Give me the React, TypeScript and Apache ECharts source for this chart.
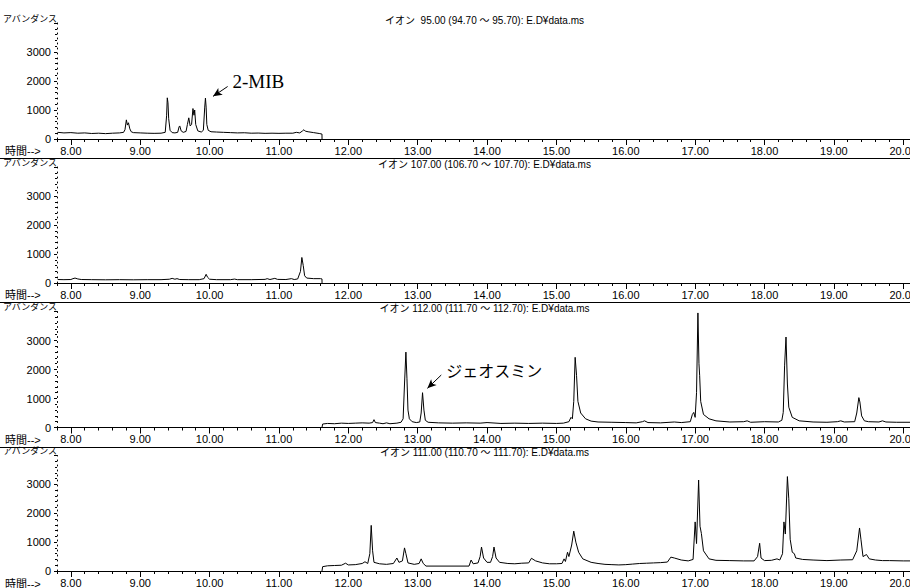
import React, { useEffect, useRef } from 'react';
import * as echarts from 'echarts';

// ---- axis settings ----
const xMin = 7.8;
const xMax = 20.1;
const yMax = 4000;
const majorTimes = [8, 9, 10, 11, 12, 13, 14, 15, 16, 17, 18, 19, 20];
const xAxisName = '時間-->';
const yAxisName = 'アバンダンス';

const titles = [
  'イオン  95.00 (94.70 ～ 95.70): E.D¥data.ms',
  'イオン 107.00 (106.70 ～ 107.70): E.D¥data.ms',
  'イオン 112.00 (111.70 ～ 112.70): E.D¥data.ms',
  'イオン 111.00 (110.70 ～ 111.70): E.D¥data.ms',
];

// ---- data: [time (min), abundance] ----
const ion95: [number, number][] = [
  [7.81, 230], [7.9, 210], [8.0, 220], [8.1, 200], [8.2, 210], [8.3, 190], [8.4, 200], [8.5, 185],
  [8.6, 200], [8.7, 210], [8.76, 230], [8.78, 320], [8.8, 660], [8.815, 480], [8.83, 560], [8.85, 350],
  [8.87, 250], [8.9, 220], [9.0, 210], [9.1, 200], [9.2, 195], [9.3, 200], [9.36, 230], [9.38, 800],
  [9.39, 1420], [9.4, 1250], [9.41, 700], [9.43, 300], [9.46, 220], [9.5, 210], [9.54, 230], [9.56, 420],
  [9.57, 450], [9.59, 280], [9.62, 230], [9.66, 260], [9.68, 500], [9.7, 730], [9.72, 450], [9.74, 500],
  [9.76, 1050], [9.775, 820], [9.785, 1000], [9.8, 500], [9.83, 280], [9.88, 240], [9.91, 300], [9.93, 1100],
  [9.94, 1410], [9.95, 1100], [9.96, 500], [9.98, 300], [10.02, 250], [10.1, 240], [10.2, 230], [10.3, 220],
  [10.4, 210], [10.5, 215], [10.6, 200], [10.7, 205], [10.8, 195], [10.9, 200], [11.0, 195], [11.1, 200],
  [11.2, 200], [11.25, 230], [11.3, 210], [11.34, 280], [11.36, 320], [11.38, 270], [11.42, 250], [11.5, 220],
  [11.58, 190], [11.62, 170], [11.621, 0],
];

const ion107: [number, number][] = [
  [7.81, 120], [7.9, 115], [8.0, 120], [8.03, 150], [8.06, 170], [8.1, 140], [8.15, 120], [8.3, 115],
  [8.5, 110], [8.7, 115], [8.9, 110], [9.1, 115], [9.3, 115], [9.42, 130], [9.46, 160], [9.5, 130],
  [9.53, 150], [9.57, 120], [9.7, 115], [9.85, 115], [9.92, 150], [9.95, 300], [9.97, 200], [10.0, 130],
  [10.1, 115], [10.3, 115], [10.36, 135], [10.4, 115], [10.6, 115], [10.8, 125], [10.83, 150], [10.87, 120],
  [10.94, 160], [10.98, 125], [11.1, 120], [11.18, 150], [11.22, 120], [11.27, 140], [11.31, 400], [11.33, 880],
  [11.35, 600], [11.37, 250], [11.4, 170], [11.5, 150], [11.6, 150], [11.62, 140], [11.621, 0],
];

const ion112: [number, number][] = [
  [11.62, 0], [11.63, 120], [11.7, 140], [11.8, 130], [11.9, 150], [12.0, 140], [12.1, 150], [12.2, 160],
  [12.3, 150], [12.35, 170], [12.37, 270], [12.39, 170], [12.45, 150], [12.5, 130], [12.55, 160], [12.6, 130],
  [12.7, 150], [12.76, 180], [12.79, 300], [12.81, 1500], [12.83, 2600], [12.845, 1700], [12.86, 600], [12.88, 300],
  [12.92, 200], [12.98, 170], [13.03, 190], [13.05, 500], [13.07, 1200], [13.09, 600], [13.11, 250], [13.15, 180],
  [13.3, 160], [13.5, 150], [13.7, 160], [13.9, 150], [14.0, 170], [14.2, 140], [14.4, 150], [14.6, 140],
  [14.8, 150], [15.0, 140], [15.1, 150], [15.18, 200], [15.21, 350], [15.23, 300], [15.25, 900], [15.27, 2420],
  [15.29, 1800], [15.31, 900], [15.35, 500], [15.42, 300], [15.5, 220], [15.6, 190], [15.8, 180], [16.0, 170],
  [16.15, 160], [16.24, 200], [16.27, 230], [16.32, 170], [16.5, 160], [16.7, 190], [16.8, 170], [16.93, 200],
  [16.96, 450], [16.98, 520], [17.0, 350], [17.02, 1200], [17.04, 3950], [17.055, 2200], [17.065, 1800], [17.08, 900],
  [17.12, 450], [17.2, 300], [17.3, 230], [17.5, 190], [17.7, 200], [17.75, 230], [17.8, 180], [18.0, 200],
  [18.2, 190], [18.25, 250], [18.27, 520], [18.29, 2150], [18.31, 3120], [18.33, 1500], [18.35, 700], [18.4, 350],
  [18.5, 230], [18.7, 190], [18.9, 180], [19.05, 200], [19.1, 230], [19.15, 190], [19.3, 200], [19.33, 500],
  [19.36, 1030], [19.375, 880], [19.4, 400], [19.44, 230], [19.5, 200], [19.65, 190], [19.7, 230], [19.75, 190],
  [19.9, 180], [20.1, 180],
];

const ion111: [number, number][] = [
  [11.62, 0], [11.63, 150], [11.7, 180], [11.8, 190], [11.9, 200], [11.96, 270], [12.0, 210], [12.1, 220],
  [12.2, 260], [12.24, 320], [12.28, 260], [12.31, 600], [12.33, 1580], [12.35, 700], [12.37, 300], [12.45, 250],
  [12.55, 230], [12.65, 260], [12.7, 450], [12.73, 300], [12.78, 350], [12.81, 800], [12.83, 600], [12.86, 280],
  [12.95, 230], [13.02, 260], [13.05, 420], [13.08, 260], [13.12, 170], [13.74, 170], [13.77, 380], [13.8, 250],
  [13.87, 280], [13.9, 500], [13.92, 830], [13.95, 450], [14.0, 300], [14.05, 300], [14.08, 500], [14.1, 830],
  [14.13, 450], [14.18, 300], [14.3, 260], [14.4, 250], [14.5, 270], [14.6, 280], [14.64, 440], [14.7, 350],
  [14.8, 280], [14.9, 250], [15.0, 250], [15.08, 260], [15.11, 420], [15.13, 330], [15.16, 650], [15.18, 500],
  [15.22, 900], [15.25, 1380], [15.28, 1000], [15.32, 650], [15.38, 420], [15.5, 300], [15.6, 260], [15.7, 230],
  [15.8, 220], [15.9, 210], [16.0, 220], [16.1, 240], [16.2, 260], [16.3, 270], [16.4, 280], [16.5, 290],
  [16.6, 310], [16.65, 480], [16.7, 450], [16.8, 380], [16.9, 350], [16.97, 400], [17.0, 1700], [17.02, 950],
  [17.05, 3150], [17.07, 1550], [17.09, 1300], [17.12, 700], [17.2, 420], [17.3, 370], [17.5, 360], [17.7, 350],
  [17.85, 350], [17.9, 500], [17.93, 960], [17.95, 450], [18.0, 360], [18.1, 370], [18.18, 420], [18.22, 380],
  [18.26, 600], [18.28, 1700], [18.3, 1280], [18.33, 3270], [18.35, 2500], [18.37, 1100], [18.4, 650], [18.43, 600],
  [18.45, 450], [18.55, 400], [18.7, 380], [18.9, 360], [19.1, 380], [19.27, 390], [19.33, 700], [19.37, 1490],
  [19.39, 1100], [19.42, 500], [19.47, 570], [19.51, 420], [19.6, 380], [19.7, 360], [19.8, 360], [20.0, 350],
  [20.1, 350],
];

const traces = [ion95, ion107, ion112, ion111];

// annotations: [arrow start, arrow end], text anchor
const mibArrow: [number, number][] = [[10.26, 1810], [10.05, 1470]];
const mibLabel: [number, number] = [10.33, 1990];
const geoArrow: [number, number][] = [[13.34, 1810], [13.14, 1350]];
const geoLabel: [number, number] = [13.41, 1990];

// ---- layout ----
const zeroY = [139, 283, 427.5, 571.5];
const plotH = 116;
const gridLeft = 57;
const gridW = 855;

const numFont = "'Liberation Sans Narrow', 'Liberation Sans', Arial, sans-serif";
const jpFont = "'Liberation Sans', 'Noto Sans CJK JP', sans-serif";

export default function App() {
  const ref = useRef<HTMLDivElement>(null);
  useEffect(() => {
    if (!ref.current) return;
    const chart = echarts.init(ref.current, undefined, { renderer: 'svg' });

    const grids = zeroY.map((z) => ({ left: gridLeft, top: z - plotH, width: gridW, height: plotH }));

    const mainX = zeroY.map((_, i) => ({
      type: 'value',
      gridIndex: i,
      min: xMin,
      max: xMax,
      interval: 0.2,
      position: 'bottom',
      axisLine: { onZero: false, lineStyle: { color: '#000', width: 1 } },
      axisTick: { length: 3, lineStyle: { color: '#000' } },
      axisLabel: {
        margin: 6,
        color: '#000',
        fontSize: 11,
        fontFamily: numFont,
        formatter: (v: number) => (Math.abs(v - Math.round(v)) < 1e-6 ? Math.round(v).toFixed(2) : ''),
      },
      splitLine: { show: false },
    }));

    const majorX = zeroY.map((_, i) => ({
      type: 'value',
      gridIndex: i,
      min: xMin,
      max: xMax,
      position: 'bottom',
      axisLine: { show: false, onZero: false },
      axisTick: { show: true, length: 6, customValues: majorTimes, lineStyle: { color: '#000' } },
      axisLabel: { show: false },
      splitLine: { show: false },
    }));

    const yAxes = zeroY.map((_, i) => ({
      type: 'value',
      gridIndex: i,
      min: 0,
      max: yMax,
      interval: 1000,
      axisLine: { show: true, onZero: false, lineStyle: { color: '#000', width: 1, type: [1, 4] } },
      axisTick: { show: true, length: 3, lineStyle: { color: '#000' } },
      minorTick: { show: true, splitNumber: 5, length: 2, lineStyle: { color: '#000' } },
      axisLabel: {
        margin: 6,
        color: '#000',
        fontSize: 11,
        fontFamily: numFont,
        formatter: (v: number) => (v >= yMax ? '' : String(v)),
      },
      splitLine: { show: false },
      minorSplitLine: { show: false },
    }));

    const arrowMark = (a: [number, number][]) => ({
      silent: true,
      symbol: ['none', 'arrow'],
      symbolSize: [6, 9],
      lineStyle: { color: '#000', width: 1, type: 'solid' },
      label: { show: false },
      data: [[{ coord: a[0] }, { coord: a[1] }]],
    });

    const labelMark = (p: [number, number], text: string, font: string, size: number) => ({
      silent: true,
      symbol: 'circle',
      symbolSize: 0,
      itemStyle: { color: 'transparent' },
      label: {
        show: true,
        position: 'right',
        distance: 0,
        formatter: text,
        color: '#000',
        fontSize: size,
        fontFamily: font,
      },
      data: [{ coord: p }],
    });

    const series: any[] = traces.map((d, i) => ({
      type: 'line',
      xAxisIndex: i,
      yAxisIndex: i,
      data: d,
      showSymbol: false,
      symbol: 'none',
      silent: true,
      lineStyle: { color: '#000', width: 1 },
    }));
    series[0].markLine = arrowMark(mibArrow);
    series[0].markPoint = labelMark(mibLabel, '2-MIB', "'Liberation Serif', 'DejaVu Serif', serif", 19);
    series[2].markLine = arrowMark(geoArrow);
    series[2].markPoint = labelMark(geoLabel, 'ジェオスミン', "'Noto Sans CJK JP', sans-serif", 16);

    const graphics: any[] = [];
    zeroY.forEach((z, i) => {
      graphics.push({
        type: 'text',
        x: gridLeft + gridW / 2,
        y: z - 119,
        style: { text: titles[i], align: 'center', verticalAlign: 'middle', fontSize: 10, fontFamily: jpFont, fill: '#000' },
      });
      graphics.push({
        type: 'text',
        x: gridLeft,
        y: z - 121,
        style: { text: yAxisName, align: 'right', verticalAlign: 'middle', fontSize: 9, fontFamily: "'Noto Sans CJK JP', sans-serif", fill: '#000' },
      });
      graphics.push({
        type: 'text',
        x: 5,
        y: z + 12,
        style: { text: xAxisName, align: 'left', verticalAlign: 'middle', fontSize: 11, fontFamily: jpFont, fill: '#000' },
      });
      if (i < zeroY.length - 1) {
        const ly = Math.round(z + 19) + 0.5;
        graphics.push({
          type: 'line',
          shape: { x1: 0, y1: ly, x2: 920, y2: ly },
          style: { stroke: '#000', lineWidth: 1 },
        });
      }
    });

    chart.setOption({
      animation: false,
      backgroundColor: '#fff',
      grid: grids,
      xAxis: [...mainX, ...majorX],
      yAxis: yAxes,
      series,
      graphic: graphics,
    });
    return () => chart.dispose();
  }, []);

  return (
    <div style={{ position: 'fixed', left: 0, top: 0, width: 910, height: 588, overflow: 'hidden', background: '#fff' }}>
      <div ref={ref} style={{ width: 920, height: 588 }} />
    </div>
  );
}
